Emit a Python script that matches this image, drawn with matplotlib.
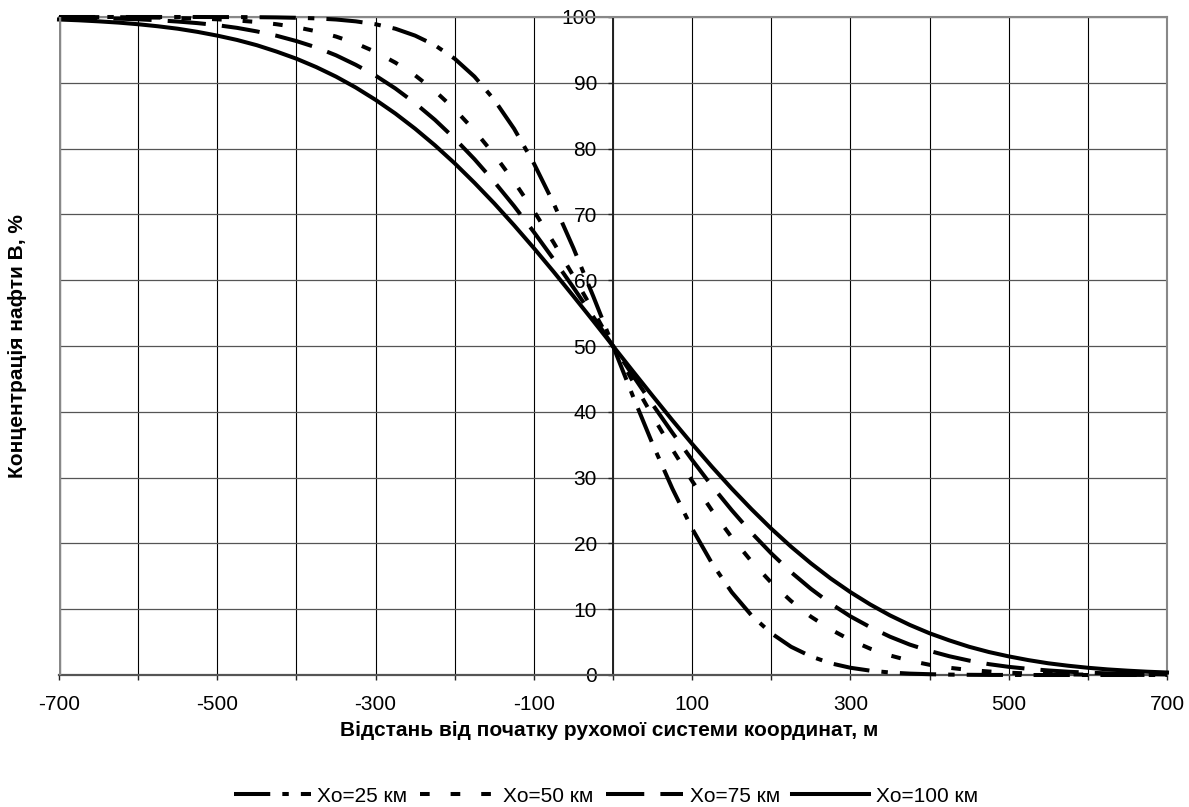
import matplotlib
matplotlib.use("Agg")
import matplotlib.pyplot as plt
import numpy as np

plt.rcParams['font.family'] = ['Liberation Sans', 'DejaVu Sans']

# distance from the origin of the moving coordinate system, m
x_m = np.arange(-700, 701, 25)

# oil B concentration, %
conc_25 = [100, 100, 100, 100, 100, 100, 100, 100, 99.99, 99.99, 99.97, 99.94, 99.88, 99.79,
           99.62, 99.34, 98.90, 98.22, 97.17, 95.71, 93.66, 90.94, 87.41, 83.02, 77.76, 71.67,
           64.88, 57.57, 50.0,
           42.43, 35.12, 28.33, 22.24, 16.98, 12.59, 9.06, 6.34, 4.29, 2.83, 1.78, 1.10, 0.66,
           0.38, 0.21, 0.12, 0.06, 0.03, 0.01, 0.01, 0, 0, 0, 0, 0, 0, 0, 0]
conc_50 = [99.99, 99.99, 99.98, 99.97, 99.94, 99.91, 99.84, 99.77, 99.65, 99.47, 99.24, 98.90,
           98.45, 97.83, 97.03, 96.00, 94.69, 93.07, 91.13, 88.76, 85.97, 82.74, 79.08, 74.99,
           70.52, 65.71, 60.63, 55.36, 50.0,
           44.64, 39.37, 34.29, 29.48, 25.01, 20.92, 17.26, 14.03, 11.24, 8.87, 6.93, 5.31, 4.00,
           2.97, 2.17, 1.55, 1.10, 0.76, 0.53, 0.35, 0.23, 0.16, 0.09, 0.06, 0.03, 0.02, 0.01, 0.01]
conc_75 = [99.92, 99.87, 99.81, 99.75, 99.65, 99.50, 99.31, 99.07, 98.76, 98.35, 97.81, 97.15,
           96.34, 95.38, 94.18, 92.73, 91.09, 89.14, 86.90, 84.37, 81.52, 78.39, 74.95, 71.27,
           67.32, 63.18, 58.88, 54.46, 50.0,
           45.54, 41.12, 36.82, 32.68, 28.73, 25.05, 21.61, 18.48, 15.63, 13.10, 10.86, 8.91, 7.27,
           5.82, 4.62, 3.66, 2.85, 2.19, 1.65, 1.24, 0.93, 0.69, 0.50, 0.35, 0.25, 0.19, 0.13, 0.08]
conc_100 = [99.62, 99.50, 99.34, 99.15, 98.90, 98.59, 98.22, 97.74, 97.17, 96.51, 95.71, 94.74,
            93.66, 92.39, 90.94, 89.28, 87.41, 85.33, 83.02, 80.50, 77.76, 74.80, 71.67, 68.35,
            64.88, 61.28, 57.57, 53.81, 50.0,
            46.19, 42.43, 38.72, 35.12, 31.65, 28.33, 25.20, 22.24, 19.50, 16.98, 14.67, 12.59,
            10.72, 9.06, 7.61, 6.34, 5.26, 4.29, 3.49, 2.83, 2.26, 1.78, 1.41, 1.10, 0.85, 0.66,
            0.50, 0.38]

series_labels = ['Xo=25 км', 'Xo=50 км', 'Xo=75 км', 'Xo=100 км']
x_ticks = np.arange(-700, 701, 100)
x_tick_labels = [str(v) if (v // 100) % 2 != 0 else '' for v in x_ticks]
y_ticks = np.arange(0, 101, 10)

fig = plt.figure(figsize=(11.89, 8.07), dpi=100)
ax = fig.add_axes([59 / 1189, 1 - 675 / 807, (1167 - 59) / 1189, (675 - 17) / 807])

lw = 2.9
styles = [(0, (9, 3, 1.6, 3)), (0, (2.4, 5.2)), (0, (9.5, 4)), '-']
for y, label, ls in zip([conc_25, conc_50, conc_75, conc_100], series_labels, styles):
    ax.plot(x_m, y, color='black', linewidth=lw, linestyle=ls, label=label,
            dash_capstyle='butt', clip_on=False, zorder=3)

ax.set_xlim(-700, 700)
ax.set_ylim(0, 100)
ax.set_xticks(x_ticks)
ax.set_xticklabels(x_tick_labels)
ax.set_yticks(y_ticks)

ax.grid(axis='x', color='black', linewidth=0.8)
ax.grid(axis='y', color='#555555', linewidth=0.9)

ax.spines['left'].set_position(('data', 0))
ax.spines['left'].set_color('#222222')
ax.spines['left'].set_linewidth(1.4)
ax.spines['bottom'].set_color('#555555')
ax.spines['bottom'].set_linewidth(1.6)
for side in ['top', 'right']:
    ax.spines[side].set_color('#888888')
    ax.spines[side].set_linewidth(1.5)
ax.axvline(-700, color='#888888', linewidth=2.5, zorder=4)

ax.tick_params(axis='both', direction='out', length=3.6, width=1.0, labelsize=15, color='#222222')
ax.tick_params(axis='y', pad=8)
ax.tick_params(axis='x', pad=11)
for t in ax.get_yticklabels():
    t.set_zorder(5)

fig.text(18 / 1189, 1 - 346 / 807, 'Концентрація нафти В, %', rotation=90,
         ha='center', va='center', fontsize=15, fontweight='bold')
fig.text(609 / 1189, 1 - 731 / 807, 'Відстань від початку рухомої системи координат, м',
         ha='center', va='center', fontsize=15, fontweight='bold')

fig.legend(loc='center', bbox_to_anchor=(606 / 1189, 1 - 796 / 807), ncol=4, frameon=False,
           fontsize=15, handlelength=3.7, handletextpad=0.3, columnspacing=0.6,
           borderpad=0.1)

fig.savefig('out.png', dpi=100)
